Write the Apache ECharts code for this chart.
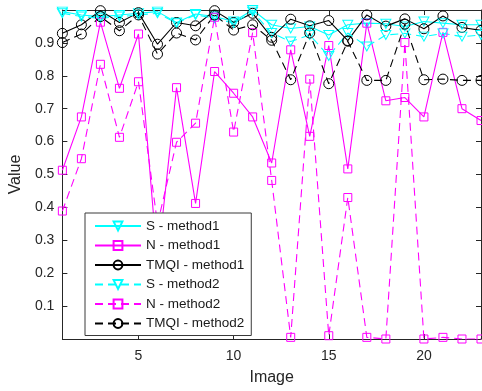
<!DOCTYPE html>
<html>
<head>
<meta charset="utf-8">
<script src="https://cdn.jsdelivr.net/npm/echarts@6/dist/echarts.min.js"></script>
<style>html,body{margin:0;padding:0;background:#fff}#c{width:482px;height:391px}</style>
</head>
<body>
<div id="c"></div>
<script>
var images = [1,2,3,4,5,6,7,8,9,10,11,12,13,14,15,16,17,18,19,20,21,22,23];
var xTicks = [5,10,15,20];
var yTicks = [0.1,0.2,0.3,0.4,0.5,0.6,0.7,0.8,0.9];
var sMethod1 = [0.995,0.985,0.98,0.985,0.99,0.995,0.962,0.988,0.98,0.965,1.0,0.955,0.944,0.95,0.924,0.955,0.96,0.958,0.95,0.965,0.96,0.955,0.955];
var nMethod1 = [0.513,0.675,0.963,0.762,0.927,0.23,0.764,0.412,0.813,0.747,0.675,0.535,0.879,0.616,0.892,0.517,0.960,0.724,0.734,0.675,0.932,0.700,0.664];
var tmqiMethod1 = [0.929,0.955,0.998,0.962,0.992,0.896,0.962,0.952,0.998,0.962,0.990,0.917,0.972,0.952,0.968,0.907,0.985,0.951,0.973,0.943,0.982,0.947,0.938];
var sMethod2 = [0.99,0.98,0.975,0.98,0.985,0.99,0.96,0.985,0.975,0.96,0.995,0.93,0.904,0.924,0.86,0.93,0.889,0.924,0.929,0.919,0.929,0.919,0.924];
var nMethod2 = [0.389,0.548,0.835,0.613,0.782,0.35,0.598,0.656,0.978,0.629,0.931,0.482,0.005,0.790,0.01,0.43,0.005,0.0,0.901,0.0,0.005,0.0,0.0];
var tmqiMethod2 = [0.901,0.927,0.98,0.937,0.985,0.866,0.930,0.909,0.985,0.939,0.955,0.908,0.788,0.930,0.776,0.905,0.786,0.786,0.957,0.788,0.790,0.786,0.786];

function pairs(vals){ return images.map(function(x,i){ return [x, vals[i]]; }); }
var axisCol = '#262626';
var font = 'Liberation Sans, Arial, Helvetica, sans-serif';

function mk(name, vals, color, symbol, size, rotate, dashed){
  return {
    name: name, type: 'line', data: pairs(vals),
    symbol: symbol, symbolSize: size, symbolRotate: rotate, showAllSymbol: true,
    lineStyle: {color: color, width: 1.1, type: dashed ? [8,5] : 'solid'},
    itemStyle: {color: 'rgba(0,0,0,0)', borderColor: color, borderWidth: 1},
    emphasis: {disabled: true}, animation: false, clip: true
  };
}

var chart = echarts.init(document.getElementById('c'), null, {renderer: 'canvas'});
chart.setOption({
  animation: false,
  backgroundColor: '#fff',
  grid: {left: 60, top: 10, width: 421, height: 330, containLabel: false},
  xAxis: [{
    type: 'value', min: 1, max: 23, position: 'bottom',
    name: 'Image', nameLocation: 'middle', nameGap: 31,
    nameTextStyle: {fontFamily: font, fontSize: 16, color: axisCol},
    axisLine: {show: true, lineStyle: {color: axisCol, width: 1}},
    axisTick: {show: true, inside: true, length: 5, customValues: xTicks, lineStyle: {color: axisCol}},
    axisLabel: {show: true, customValues: xTicks, margin: 10, fontFamily: font, fontSize: 14, color: axisCol},
    splitLine: {show: false}
  },{
    type: 'value', min: 1, max: 23, position: 'top',
    axisLine: {show: true, onZero: false, lineStyle: {color: axisCol, width: 1}},
    axisTick: {show: true, inside: true, length: 5, customValues: xTicks, lineStyle: {color: axisCol}},
    axisLabel: {show: false}, splitLine: {show: false}
  }],
  yAxis: [{
    type: 'value', min: 0, max: 1, position: 'left',
    name: 'Value', nameLocation: 'middle', nameGap: 34, nameRotate: 90,
    nameTextStyle: {fontFamily: font, fontSize: 16, color: axisCol},
    axisLine: {show: true, onZero: false, lineStyle: {color: axisCol, width: 1}},
    axisTick: {show: true, inside: true, length: 5, customValues: yTicks, lineStyle: {color: axisCol}},
    axisLabel: {show: true, customValues: yTicks, margin: 8, fontFamily: font, fontSize: 14, color: axisCol},
    splitLine: {show: false}
  },{
    type: 'value', min: 0, max: 1, position: 'right',
    axisLine: {show: true, onZero: false, lineStyle: {color: axisCol, width: 1}},
    axisTick: {show: true, inside: true, length: 5, customValues: yTicks, lineStyle: {color: axisCol}},
    axisLabel: {show: false}, splitLine: {show: false}
  }],
  legend: {
    orient: 'vertical', left: 85, top: 213,
    backgroundColor: '#fff', borderColor: '#3a3a3a', borderWidth: 1,
    padding: [6, 7, 5, 9], itemWidth: 46, itemHeight: 11, itemGap: 5.5,
    textStyle: {fontFamily: font, fontSize: 13.5, color: '#1a1a1a', lineHeight: 12},
    data: ['S - method1','N - method1','TMQI - method1','S - method2','N - method2','TMQI - method2']
  },
  series: [
    mk('S - method1', sMethod1, '#00ffff', 'triangle', [10,9], 180, false),
    mk('N - method1', nMethod1, '#ff00ff', 'rect', 8, 0, false),
    mk('TMQI - method1', tmqiMethod1, '#000000', 'circle', 10, 0, false),
    mk('S - method2', sMethod2, '#00ffff', 'triangle', [10,9], 180, true),
    mk('N - method2', nMethod2, '#ff00ff', 'rect', 8, 0, true),
    mk('TMQI - method2', tmqiMethod2, '#000000', 'circle', 10, 0, true)
  ]
});
</script>
</body>
</html>
